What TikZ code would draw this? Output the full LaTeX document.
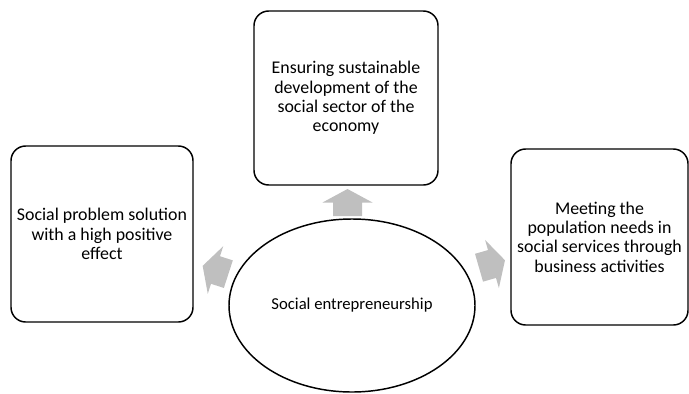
\documentclass[tikz,border=0pt]{standalone}
\usepackage{fontspec}
\setmainfont{Carlito}
\usetikzlibrary{shapes.geometric}
\definecolor{arrgray}{RGB}{191,191,191}
\tikzset{
  box/.style={draw=black, line width=1.1pt, rounded corners=11pt, align=center,
    inner sep=0pt, font=\fontsize{13.4pt}{14.5pt}\selectfont},
  centre/.style={draw=black, line width=1.1pt, ellipse, inner sep=0pt,
    minimum width=246*0.75pt, minimum height=173*0.75pt,
    font=\fontsize{12.5pt}{14.5pt}\selectfont},
  blockarrow/.style={fill=arrgray, draw=none}
}
\newcommand{\bigarrow}[3]{%
  \begin{scope}[shift={(#1,#2)}, rotate=#3]
    \fill[blockarrow] (-13.5,-14.5) -- (0,-14.5) -- (0,-25) -- (13.5,0)
      -- (0,25) -- (0,14.5) -- (-13.5,14.5) -- cycle;
  \end{scope}}
\begin{document}
\begin{tikzpicture}[x=0.75pt, y=-0.75pt]
\useasboundingbox (0,0) rectangle (689,393);
\node[box, minimum width=184*0.75pt, minimum height=174*0.75pt] (top) at (346,98)
  {Ensuring sustainable\\development of the\\social sector of the\\economy};
\node[box, minimum width=182*0.75pt, minimum height=176*0.75pt] (left) at (102,234)
  {Social problem solution\\with a high positive\\effect};
\node[box, minimum width=177*0.75pt, minimum height=176*0.75pt] (right) at (599.5,237)
  {Meeting the\\population needs in\\social services through\\business activities};
\node[centre] (core) at (352,305.5) {Social entrepreneurship};
\bigarrow{347.5}{202.5}{90}
\bigarrow{215.5}{270}{162}
\bigarrow{492}{264}{16}
\end{tikzpicture}
\end{document}
